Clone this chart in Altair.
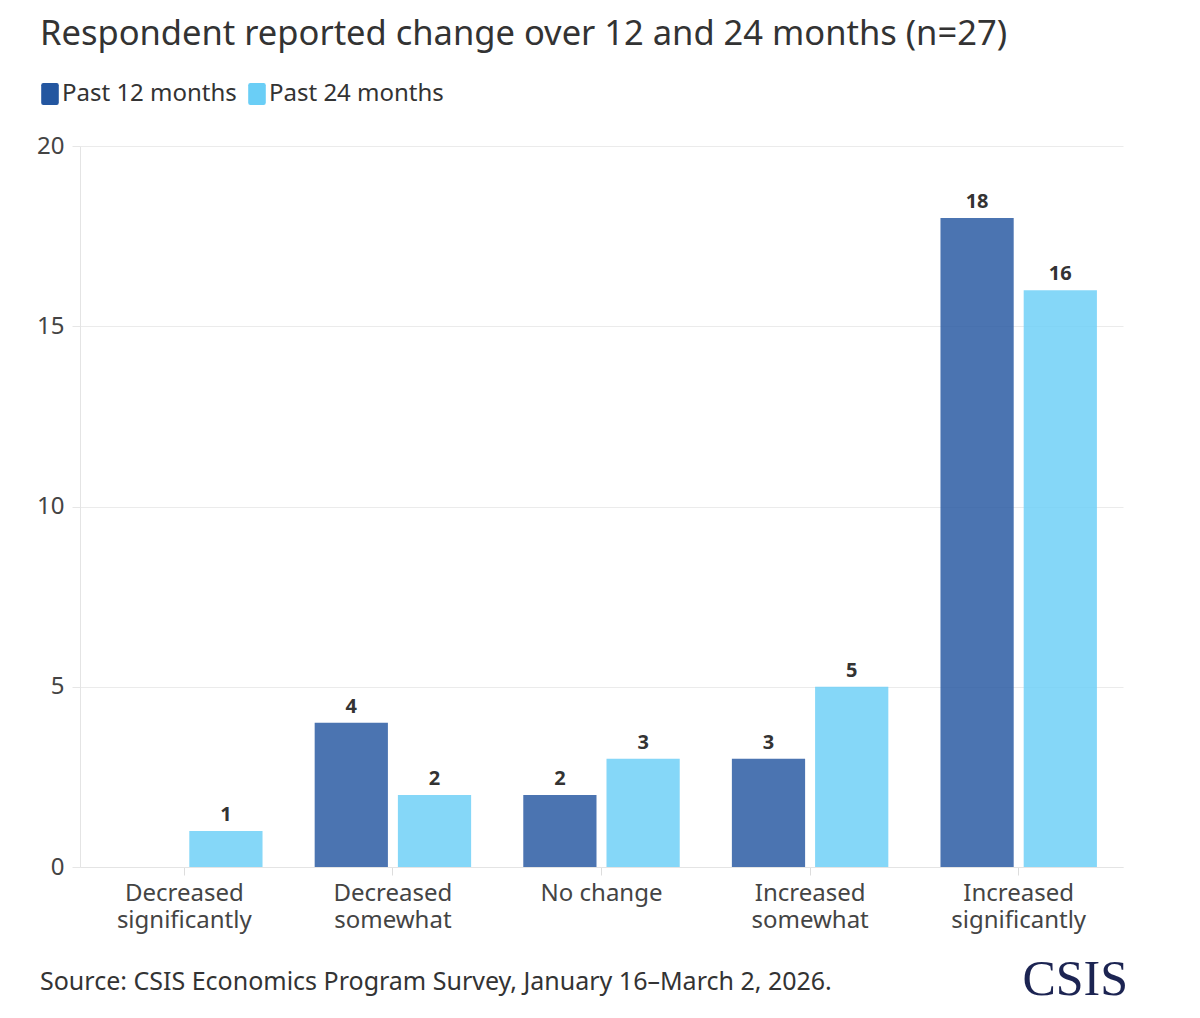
import altair as alt
import pandas as pd

categories = ["Decreased significantly", "Decreased somewhat", "No change",
              "Increased somewhat", "Increased significantly"]
series = ["Past 12 months", "Past 24 months"]
past12 = [0, 4, 2, 3, 18]
past24 = [1, 2, 3, 5, 16]
colors = ["#2356a0", "#6aceF6"]
y_ticks = [0, 5, 10, 15, 20]

title_text = "Respondent reported change over 12 and 24 months (n=27)"
source_text = "Source: CSIS Economics Program Survey, January 16\u2013March 2, 2026."
logo_text = "CSIS"

rows = []
for c, a, b in zip(categories, past12, past24):
    rows.append({"category": c, "series": series[0], "value": a})
    rows.append({"category": c, "series": series[1], "value": b})
df = pd.DataFrame(rows)

FONT = "Noto Sans"

x_enc = alt.X("category:N", sort=categories,
              scale=alt.Scale(paddingInner=0.25, paddingOuter=0.125),
              axis=alt.Axis(title=None, labelAngle=0, labelFontSize=24, labelColor="#444444",
                            labelFont=FONT, labelLineHeight=27.5, labelPadding=6,
                            ticks=True, tickSize=8, tickColor="#dddddd",
                            domainColor="#e4e4e4", grid=False,
                            labelExpr="datum.label == 'No change' ? 'No change' : split(datum.label, ' ')"))
xoff = alt.XOffset("series:N", sort=series, scale=alt.Scale(paddingInner=0.12))
y_enc = alt.Y("value:Q", scale=alt.Scale(domain=[0, 20], nice=False),
              axis=alt.Axis(title=None, values=y_ticks, labelFontSize=24, labelColor="#444444",
                            labelFont=FONT, labelPadding=8, tickSize=8, tickColor="#e6e6e6",
                            gridColor="#ebebeb", domainColor="#e4e4e4", grid=True))

bars = alt.Chart(df).mark_bar(opacity=0.82).encode(
    x=x_enc, xOffset=xoff, y=y_enc,
    color=alt.Color("series:N", sort=series,
                    scale=alt.Scale(domain=series, range=colors),
                    legend=alt.Legend(title=None, orient="none", direction="horizontal",
                                      legendX=-42, legendY=-64,
                                      labelFontSize=24, labelColor="#333333", labelFont=FONT,
                                      labelLimit=400,
                                      symbolType="M -0.6 -1 H 0.6 Q 0.8 -1 0.8 -0.8 V 0.8 Q 0.8 1 0.6 1 H -0.6 Q -0.8 1 -0.8 0.8 V -0.8 Q -0.8 -1 -0.6 -1 Z",
                                      symbolSize=484, symbolOpacity=1, symbolStrokeWidth=0,
                                      labelOffset=0, columnPadding=8)),
)

labels = alt.Chart(df).transform_filter("datum.value > 0").mark_text(
    dy=-6, baseline="bottom", fontSize=20, fontWeight="bold", color="#333333", font=FONT
).encode(x=alt.X("category:N", sort=categories), xOffset=xoff,
         y=alt.Y("value:Q"), text=alt.Text("value:Q"))

source = alt.Chart(pd.DataFrame({"t": [source_text]})).mark_text(
    align="left", baseline="middle", fontSize=25, color="#333333", font=FONT
).encode(x=alt.value(-40), y=alt.value(836), text="t:N")

logo = alt.Chart(pd.DataFrame({"t": [logo_text]})).mark_text(
    align="right", baseline="alphabetic", fontSize=50, color="#1c2452", font="Liberation Serif"
).encode(x=alt.value(1048), y=alt.value(849), text="t:N")

chart = alt.layer(bars, labels, source, logo).properties(
    width=1043, height=721,
    title=alt.TitleParams(title_text, anchor="start", frame="group", dx=-40, offset=30,
                          fontSize=34.5, font=FONT, fontWeight="normal", color="#333333"),
    autosize=alt.AutoSizeParams(type="none"),
    padding={"left": 72, "top": 138, "right": 60, "bottom": 140},
).configure_view(stroke=None)

chart.save("out.html", embed_options={"renderer": "svg", "actions": False})
